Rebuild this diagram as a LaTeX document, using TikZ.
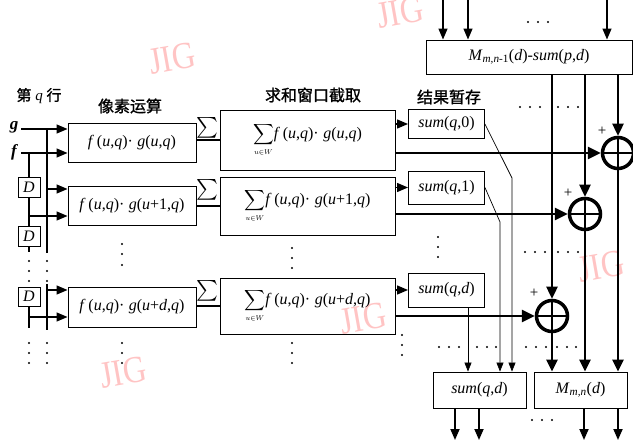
\documentclass[tikz,border=0pt]{standalone}
\usepackage{exscale}
\usepackage{fontspec}
\setmainfont{Liberation Serif}
\newfontfamily\cjk[FakeBold=1.2]{Noto Sans CJK SC}
\usetikzlibrary{arrows.meta}
\definecolor{wmc}{RGB}{255,196,196}
\newcommand\iv[1]{\textit{#1}}
\newcommand\wsum{{\fontsize{14}{14}\selectfont$\displaystyle\sum_{\scriptscriptstyle u\in W}$}}
\begin{document}
\begin{tikzpicture}[x=1pt,y=-1pt,
  bx/.style={draw, line width=0.9pt, inner sep=0pt, font=\fontsize{16}{18}\selectfont},
  arr/.style={-{Triangle[length=11pt,width=9pt]}, line width=1.3pt},
  sarr/.style={-{Triangle[length=9pt,width=7pt]}, line width=0.7pt},
  varr/.style={-{Triangle[length=12pt,width=11pt]}, line width=2.4pt},
  harr/.style={-{Triangle[length=13pt,width=12pt]}, line width=2.8pt},
  bus/.style={line width=1.3pt},
  oplus/.style={circle, draw, line width=3.5pt, minimum size=31pt, inner sep=0pt},
  cjklab/.style={font=\cjk\fontsize{16}{16}\selectfont, inner sep=0pt},
  wm/.style={text=wmc, font=\fontsize{38}{38}\selectfont, rotate=10, xscale=0.85},
  plus/.style={font=\fontsize{15}{15}\selectfont, inner sep=0pt},
  sig/.style={font=\fontsize{20}{20}\selectfont, inner sep=0pt}]
\useasboundingbox (0,0) rectangle (633,441);
% watermarks
\node[wm] (wm1) at (172,58) {JIG};
\node[wm] (wm2) at (400,12) {JIG};
\node[wm] (wm3) at (601,266) {JIG};
\node[wm] (wm4) at (363,318) {JIG};
\node[wm] (wm5) at (123,372) {JIG};
% titles
\node[inner sep=0pt, font=\fontsize{15}{15}\selectfont] (lab1) at (39,96) {{\cjk 第} \iv{q} {\cjk 行}};
\node[cjklab] (lab2) at (130,106) {像素运算};
\node[cjklab] (lab3) at (313,95) {求和窗口截取};
\node[cjklab] (lab4) at (449,97) {结果暂存};
% pixel boxes
\node[bx, minimum width=128, minimum height=39] (p1) at (132,142.5) {\iv{f}\,(\iv{u},\iv{q})·\;\iv{g}(\iv{u},\iv{q})};
\node[bx, minimum width=128, minimum height=39] (p2) at (132,205.5) {\iv{f}\,(\iv{u},\iv{q})·\;\iv{g}(\iv{u}+1,\iv{q})};
\node[bx, minimum width=128, minimum height=40] (p3) at (132,307) {\iv{f}\,(\iv{u},\iv{q})·\;\iv{g}(\iv{u}+\iv{d},\iv{q})};
% window boxes
\node[bx, minimum width=175, minimum height=60] (w1) at (307.5,140) {\wsum\iv{f}\,(\iv{u},\iv{q})·\;\iv{g}(\iv{u},\iv{q})};
\node[bx, minimum width=175, minimum height=58] (w2) at (307.5,206) {\wsum\iv{f}\,(\iv{u},\iv{q})·\;\iv{g}(\iv{u}+1,\iv{q})};
\node[bx, minimum width=175, minimum height=56] (w3) at (307.5,306) {\wsum\iv{f}\,(\iv{u},\iv{q})·\;\iv{g}(\iv{u}+\iv{d},\iv{q})};
% sigma between
\node[sig] (sg1) at (207,128) {$\sum$};
\node[sig] (sg2) at (207,190) {$\sum$};
\node[sig] (sg3) at (207,291) {$\sum$};
\draw[line width=1.8pt] (p1.east |- w1.west) -- (w1.west);
\draw[line width=1.8pt] (p2.east |- w2.west) -- (w2.west);
\draw[line width=1.8pt] (p3.east |- w3.west) -- (w3.west);
% sum boxes
\node[bx, minimum width=76, minimum height=29] (s0) at (446.5,124) {\iv{sum}(\iv{q},0)};
\node[bx, minimum width=76, minimum height=33] (s1) at (446.5,187.5) {\iv{sum}(\iv{q},1)};
\node[bx, minimum width=76, minimum height=34] (s2) at (446.5,290) {\iv{sum}(\iv{q},\iv{d})};
% top and bottom boxes
\node[bx, minimum width=206, minimum height=34] (T) at (529,57) {\iv{M}\textsubscript{\iv{m,n}-1}(\iv{d})-\iv{sum}(\iv{p},\iv{d})};
\node[bx, minimum width=93, minimum height=36] (B1) at (479.5,390) {\iv{sum}(\iv{q},\iv{d})};
\node[bx, minimum width=93, minimum height=36] (B2) at (580.5,390) {\iv{M}\textsubscript{\iv{m,n}}(\iv{d})};
% oplus
\node[oplus] (o1) at (618,153) {};
\node[oplus] (o2) at (585,214) {};
\node[oplus] (o3) at (552,316) {};
\foreach \o in {o1,o2,o3}{
  \draw[line width=2.6pt] (\o.north) -- (\o.south);
  \draw[line width=2.6pt] (\o.west) -- (\o.east);
}
\node[plus] (pl1) at (602,131) {+};
\node[plus] (pl2) at (568,193) {+};
\node[plus] (pl3) at (534,293) {+};
% window -> sum / oplus
\draw[arr] (w1.east |- s0.west) -- (s0.west);
\draw[arr] (w2.east |- s1.west) -- (s1.west);
\draw[arr] (w3.east |- s2.west) -- (s2.west);
\draw[harr] (w1.east |- o1.west) -- (o1.west);
\draw[harr] (w2.east |- o2.west) -- (o2.west);
\draw[harr] (w3.east |- o3.west) -- (o3.west);
% verticals from T
\draw[varr] (T.south -| o1) -- (o1.north);
\draw[varr] (T.south -| o2) -- (o2.north);
\draw[varr] (T.south -| o3) -- (o3.north);
\draw[varr] (o1.south) -- (o1.south |- B2.north);
\draw[varr] (o2.south) -- (o2.south |- B2.north);
\draw[varr] (o3.south) -- (o3.south |- B2.north);
% top inputs
\coordinate (ti1) at (443,0);
\coordinate (ti2) at (468,0);
\coordinate (ti3) at (607,0);
\foreach \c in {ti1,ti2,ti3}{\draw[arr] (\c) -- (\c |- T.north);}
% bottom outputs
\coordinate (bo1) at (455,440);
\coordinate (bo2) at (479,440);
\coordinate (bo3) at (584,440);
\coordinate (bo4) at (618,440);
\draw[arr, line width=1.8pt] (B1.south -| bo1) -- (bo1);
\draw[arr, line width=1.8pt] (B1.south -| bo2) -- (bo2);
\draw[arr, line width=1.8pt] (B2.south -| bo3) -- (bo3);
\draw[arr, line width=1.8pt] (B2.south -| bo4) -- (bo4);
% sum boxes -> bottom sum
\coordinate (k0) at (512,178);
\coordinate (k1) at (500,222);
\coordinate (k2) at (468,0);
\draw[sarr] (s0.east) -- (k0) -- (k0 |- B1.north);
\draw[sarr] (s1.east) -- (k1) -- (k1 |- B1.north);
\draw[sarr] (s2.south -| k2) -- (k2 |- B1.north);
% left inputs
\node[inner sep=0pt, font=\bfseries\itshape\fontsize{17}{17}\selectfont] (gl) at (14,127) {g};
\node[inner sep=0pt, font=\bfseries\itshape\fontsize{17}{17}\selectfont] (fl) at (14,152) {f};
\coordinate (gin) at (21,129);
\coordinate (fin) at (21,153);
\draw[arr] (gin) -- (gin -| p1.west);
\draw[arr] (fin) -- (fin -| p1.west);
% D boxes
\node[bx, minimum width=22, minimum height=20] (D1) at (29,187) {\iv{D}};
\node[bx, minimum width=22, minimum height=20] (D2) at (29,236) {\iv{D}};
\node[bx, minimum width=22, minimum height=19] (D3) at (29,296.5) {\iv{D}};
% g bus
\coordinate (g0) at (47,129);
\coordinate (g1) at (47,253);
\coordinate (g2) at (47,189);
\coordinate (g3) at (47,290);
\coordinate (g4) at (47,284);
\coordinate (g5) at (47,330);
\draw[bus] (g0) -- (g1);
\draw[bus] (g4) -- (g5);
\draw[arr] (g2) -- (g2 -| p2.west);
\draw[arr] (g3) -- (g3 -| p3.west);
% f chain
\coordinate (f2) at (29,216);
\coordinate (f3) at (29,317);
\coordinate (f4) at (29,252);
\coordinate (f5) at (29,328);
\draw[bus] (fin -| D1) -- (D1.north);
\draw[bus] (D1.south) -- (D2.north);
\draw[bus] (D2.south) -- (f4);
\draw[bus] (D3.south) -- (f5);
\draw[arr] (f2) -- (f2 -| p2.west);
\draw[arr] (f3) -- (f3 -| p3.west);
% vertical dots
\foreach \x/\y in {29/261,29/271,29/281,47/261,47/271,47/281,
  29/343,29/353,29/363,47/343,47/353,47/363,
  122/244,122/254,122/265,122/343,122/353,122/363,
  292/248,292/258,292/268,292/343,292/353,292/363,
  438/237,438/247,438/257,402/335,402/345,402/355}
  {\fill (\x,\y) circle (1.2pt);}
% horizontal dots
\foreach \x/\y in {528/22,538/22,548/22,
  520/107,530/107,540/107,558/107,568/107,578/107,
  525/252,535/252,545/252,558/252,568/252,578/252,
  439/347,449/347,459/347,477/347,487/347,496/347,526/347,536/347,546/347,557/347,567/347,576/347,
  532/420,542/420,552/420}
  {\fill (\x,\y) circle (1.2pt);}
\end{tikzpicture}
\end{document}
